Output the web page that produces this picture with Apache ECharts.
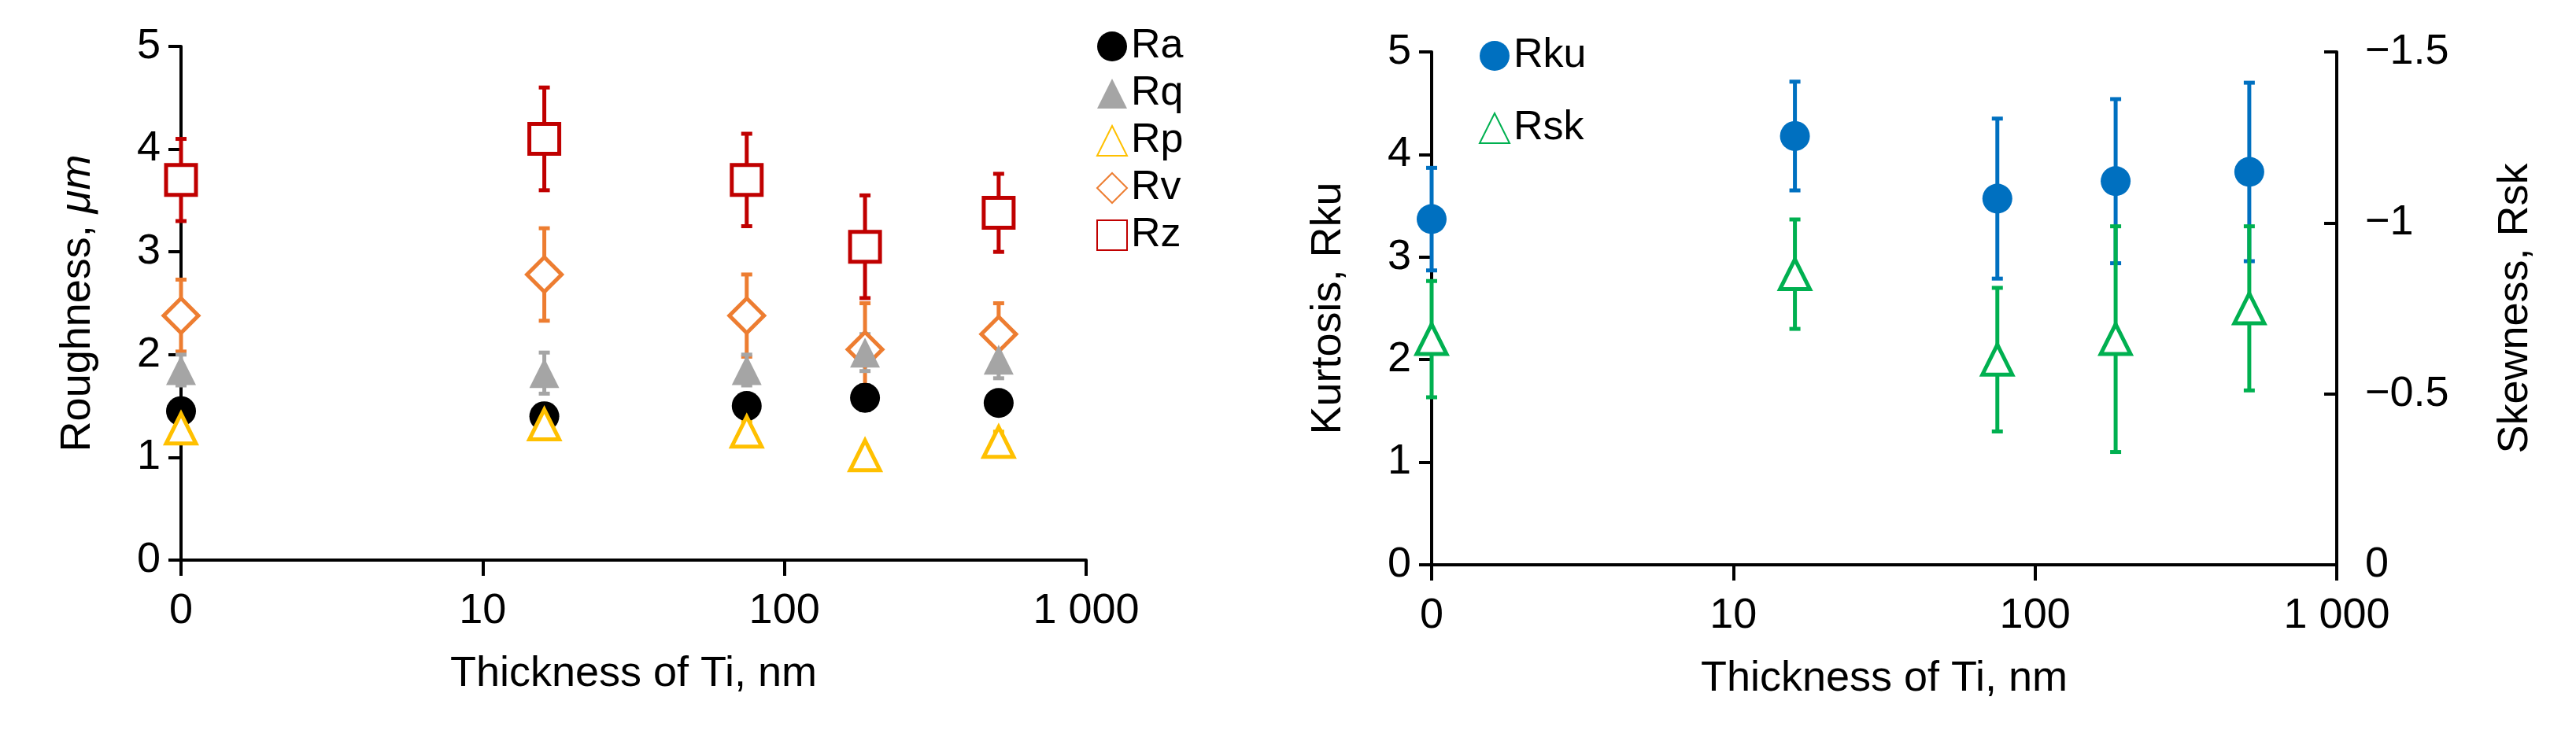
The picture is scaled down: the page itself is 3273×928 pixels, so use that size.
<!DOCTYPE html>
<html>
<head>
<meta charset="utf-8">
<script src="https://cdn.jsdelivr.net/npm/echarts@6/dist/echarts.min.js"></script>
<style>html,body{margin:0;background:#fff}#c{width:3273px;height:928px}</style>
</head>
<body>
<div id="c"></div>
<script>
// thickness of Ti, nm (0 nm drawn at 1 on the log axis)
var thick = [1, 16, 75, 185, 513];

var ra = [1.45, 1.40, 1.50, 1.58, 1.53], raErr = [0.08, 0.08, 0.08, 0.12, 0.1];
var rq = [1.85, 1.82, 1.85, 2.02, 1.95], rqErr = [0.15, 0.2, 0.15, 0.18, 0.18];
var rp = [1.28, 1.32, 1.25, 1.02, 1.15], rpErr = [0.08, 0.08, 0.1, 0.05, 0.1];
var rv = [2.38, 2.78, 2.38, 2.05, 2.20], rvErr = [0.35, 0.45, 0.4, 0.45, 0.3];
var rz = [3.70, 4.10, 3.70, 3.05, 3.38], rzErr = [0.4, 0.5, 0.45, 0.5, 0.38];

var rku = [3.37, 4.18, 3.57, 3.74, 3.83], rkuErr = [0.5, 0.53, 0.78, 0.8, 0.87];
var rsk = [-0.66, -0.85, -0.60, -0.66, -0.75], rskErr = [0.17, 0.16, 0.21, 0.33, 0.24];

var FONT = 'Liberation Sans';
var FS = 54;

function pts(v) {
  return thick.map(function (x, i) { return [x, v[i]]; });
}
function bars(v, e) {
  return thick.map(function (x, i) { return [x, v[i] - e[i], v[i] + e[i]]; });
}
function errSeries(v, e, color, xi, yi) {
  return {
    type: 'custom', xAxisIndex: xi, yAxisIndex: yi, z: 1, silent: true,
    data: bars(v, e),
    encode: {x: 0, y: [1, 2]},
    renderItem: function (params, api) {
      var lo = api.coord([api.value(0), api.value(1)]);
      var hi = api.coord([api.value(0), api.value(2)]);
      var w = 7;
      var st = {stroke: color, lineWidth: 5};
      return {type: 'group', children: [
        {type: 'line', shape: {x1: lo[0], y1: lo[1], x2: hi[0], y2: hi[1]}, style: st},
        {type: 'line', shape: {x1: lo[0] - w, y1: lo[1], x2: lo[0] + w, y2: lo[1]}, style: st},
        {type: 'line', shape: {x1: hi[0] - w, y1: hi[1], x2: hi[0] + w, y2: hi[1]}, style: st}
      ]};
    }
  };
}
function scat(name, v, symbol, color, hollow, xi, yi) {
  return {
    name: name, type: 'scatter', xAxisIndex: xi, yAxisIndex: yi, z: 3,
    symbol: symbol, symbolSize: symbol === 'diamond' ? 44 : 38,
    data: pts(v),
    itemStyle: hollow ? {color: '#fff', borderColor: color, borderWidth: 5, opacity: 1}
                      : {color: color, opacity: 1}
  };
}

var axisLine = {show: true, lineStyle: {color: '#000', width: 4}};
var label = {color: '#000', fontSize: FS, fontFamily: FONT};
var nameStyle = {color: '#000', fontSize: FS, fontFamily: FONT,
  rich: {i: {fontStyle: 'italic', fontSize: FS, fontFamily: FONT, color: '#000'}}};

function xAx(gi) {
  return {
    type: 'log', gridIndex: gi, min: 1, max: 1000, logBase: 10,
    axisLine: axisLine, axisTick: {show: true, length: 20, lineStyle: {color: '#000', width: 4}},
    minorTick: {show: false}, splitLine: {show: false},
    axisLabel: Object.assign({margin: 38, formatter: function (v) {
      if (v === 1) return '0';
      if (v === 1000) return '1 000';
      return String(v);
    }}, label),
    name: 'Thickness of Ti, nm', nameLocation: 'middle', nameGap: 118, nameTextStyle: nameStyle
  };
}
function yAx(gi, name) {
  return {
    type: 'value', gridIndex: gi, min: 0, max: 5, interval: 1,
    axisLine: axisLine, axisTick: {show: true, length: 16, lineStyle: {color: '#000', width: 4}},
    splitLine: {show: false}, axisLabel: Object.assign({margin: 26}, label),
    name: name, nameLocation: 'middle', nameGap: 104, nameTextStyle: nameStyle
  };
}

var chart = echarts.init(document.getElementById('c'));
chart.setOption({
  backgroundColor: '#fff',
  animation: false,
  grid: [
    {left: 230, width: 1150, top: 59, bottom: 216},
    {left: 1819, width: 1150, top: 66, bottom: 210}
  ],
  legend: [
    {data: ['Ra', 'Rq', 'Rp', 'Rv', 'Rz'], orient: 'vertical', left: 1388, top: 28,
      itemWidth: 38, itemHeight: 38, itemGap: 8, textStyle: {fontSize: 52, fontFamily: FONT, color: '#000'}},
    {data: ['Rku', 'Rsk'], orient: 'vertical', left: 1874, top: 40,
      itemWidth: 38, itemHeight: 38, itemGap: 40, textStyle: {fontSize: 52, fontFamily: FONT, color: '#000'}}
  ],
  xAxis: [xAx(0), xAx(1)],
  yAxis: [
    yAx(0, 'Roughness, {i|\u03bcm}'),
    yAx(1, 'Kurtosis, Rku'),
    {
      type: 'value', gridIndex: 1, position: 'right', min: -1.5, max: 0, interval: 0.5, inverse: true,
      axisLine: axisLine, axisTick: {show: true, inside: true, length: 16, lineStyle: {color: '#000', width: 4}},
      splitLine: {show: false},
      axisLabel: Object.assign({margin: 36, formatter: function (v) {
        return v < 0 ? '\u2212' + String(-v) : String(v);
      }}, label),
      name: 'Skewness, Rsk', nameLocation: 'middle', nameGap: 200, nameRotate: 90, nameTextStyle: nameStyle
    }
  ],
  series: [
    errSeries(rz, rzErr, '#C00000', 0, 0),
    errSeries(rv, rvErr, '#ED7D31', 0, 0),
    errSeries(rq, rqErr, '#A5A5A5', 0, 0),
    errSeries(ra, raErr, '#000000', 0, 0),
    errSeries(rp, rpErr, '#FFC000', 0, 0),
    scat('Rz', rz, 'rect', '#C00000', true, 0, 0),
    scat('Rv', rv, 'diamond', '#ED7D31', true, 0, 0),
    scat('Rq', rq, 'triangle', '#A5A5A5', false, 0, 0),
    scat('Ra', ra, 'circle', '#000000', false, 0, 0),
    scat('Rp', rp, 'triangle', '#FFC000', true, 0, 0),
    errSeries(rku, rkuErr, '#0070C0', 1, 1),
    errSeries(rsk, rskErr, '#00B050', 1, 2),
    scat('Rku', rku, 'circle', '#0070C0', false, 1, 1),
    scat('Rsk', rsk, 'triangle', '#00B050', true, 1, 2)
  ]
});
</script>
</body>
</html>
